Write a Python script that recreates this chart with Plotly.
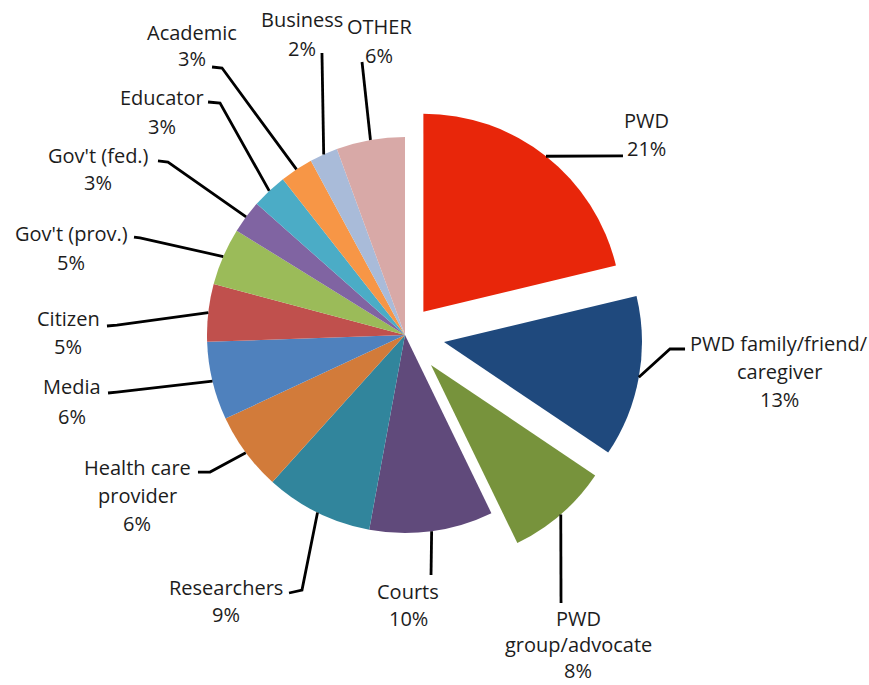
import math
import plotly.graph_objects as go

# ---------------- data ----------------
categories = ["PWD", "PWD family/friend/<br>caregiver", "PWD<br>group/advocate", "Courts",
              "Researchers", "Health care<br>provider", "Media", "Citizen", "Gov't (prov.)",
              "Gov't (fed.)", "Educator", "Academic", "Business", "OTHER"]
values = [21.3, 13.2, 8.4, 10.1, 8.8, 6.4, 6.4, 4.7, 4.7, 2.7, 2.9, 2.7, 2.3, 5.6]
pulls = [0.15, 0.2, 0.2, 0, 0, 0, 0, 0, 0, 0, 0, 0, 0, 0]
colors = ["#E8260A", "#1F497D", "#77933C", "#604A7B", "#31859C", "#D27B3A", "#4F81BD",
          "#C0504D", "#9BBB59", "#8064A2", "#4BACC6", "#F79646", "#A9BBD9", "#D8A9A7"]

# ---------------- layout positions (pixels) ----------------
W, H = 869, 685
CX, CY, R = 405, 335, 198
# label centre x, first line centre y, line gap
label_pos = [(646, 120, 28), (779, 343, 28), (578, 618, 26), (408, 591, 27), (226, 587, 27),
             (137, 467, 28), (72, 387, 29), (68, 318, 28), (71, 233, 29), (98, 155, 28),
             (162, 98, 28), (192, 32, 27), (302, 19, 29), (379, 26, 29)]
# leader line waypoints after the anchor on the slice rim
leader_pts = [[(623, 156)], [(670, 349), (685, 349)], [(561, 603)], [(431, 575)],
              [(302, 590), (289, 593)], [(210, 472), (198, 472)], [(117, 392), (108, 393)],
              [(117, 325), (107, 326)], [(140, 238), (134, 237)], [(168, 162), (158, 161)],
              [(220, 103), (208, 102)], [(222, 68), (212, 67)], [(322, 53)], [(362, 62)]]

maxpull = max(pulls)
box = 2 * R * (1 + maxpull)
dom_x = [(CX - box / 2) / W, (CX + box / 2) / W]
dom_y = [1 - (CY + box / 2) / H, 1 - (CY - box / 2) / H]


def px(x, y):
    return x / W, 1 - y / H


fig = go.Figure(go.Pie(
    labels=categories, values=values, pull=pulls, sort=False, direction="clockwise",
    rotation=0, textinfo="none", hoverinfo="label+percent",
    marker=dict(colors=colors, line=dict(width=0)),
    domain=dict(x=dom_x, y=dom_y),
))

total = sum(values)
shapes = []
annotations = []
font = dict(family="Open Sans", size=20, color="#1c1c1c")
cum = 0.0
for cat, v, p, (tx, ty, gap), pts in zip(categories, values, pulls, label_pos, leader_pts):
    mid = math.radians((cum + v / 2) / total * 360)
    cum += v
    s, c = math.sin(mid), -math.cos(mid)
    ax = CX + p * R * s + R * s
    ay = CY + p * R * c + R * c
    path_pts = [(ax, ay)] + pts
    d = "M " + " L ".join("%.4f,%.4f" % px(x, y) for x, y in path_pts)
    shapes.append(dict(type="path", path=d, xref="paper", yref="paper",
                       line=dict(color="black", width=2.8)))
    lines = cat.split("<br>") + ["%d%%" % round(v / total * 100)]
    for i, t in enumerate(lines):
        x, y = px(tx, ty + i * gap)
        annotations.append(dict(text=t, x=x, y=y, xref="paper", yref="paper",
                                xanchor="center", yanchor="middle", showarrow=False,
                                font=font))

fig.update_layout(
    width=W, height=H, autosize=False,
    margin=dict(l=0, r=0, t=0, b=0),
    paper_bgcolor="white", plot_bgcolor="white",
    showlegend=False, shapes=shapes, annotations=annotations,
)

fig.write_html("out.html")
